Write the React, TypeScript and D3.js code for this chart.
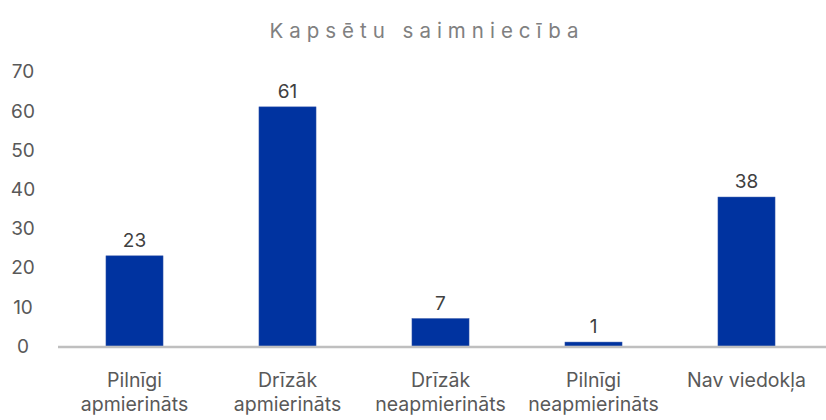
import React from "react";
import * as d3 from "d3";

const categories: string[][] = [
  ["Pilnīgi", "apmierināts"],
  ["Drīzāk", "apmierināts"],
  ["Drīzāk", "neapmierināts"],
  ["Pilnīgi", "neapmierināts"],
  ["Nav viedokļa"],
];
const values: number[] = [23, 61, 7, 1, 38];
const yTicks: number[] = [0, 10, 20, 30, 40, 50, 60, 70];
const title = "Kapsētu saimniecība";

const W = 826;
const H = 420;
const FONT = "Inter, 'Open Sans', sans-serif";

export default function App() {
  const x = d3
    .scaleBand<number>()
    .domain(values.map((_, i) => i))
    .range([58, 823])
    .paddingInner(0.627)
    .paddingOuter(0.3135);
  const y = d3.scaleLinear().domain([0, 70]).range([346, 71.6]);
  const bw = x.bandwidth();

  return (
    <svg
      width={W}
      height={H}
      style={{ position: "absolute", left: 0, top: 0, background: "#fff" }}
      fontFamily={FONT}
    >
      <text
        x={427}
        y={38}
        textAnchor="middle"
        fontSize={20.5}
        fill="#808080"
        letterSpacing={6}
      >
        {title}
      </text>
      {yTicks.map((t) => (
        <text
          key={t}
          x={23}
          y={y(t)}
          dy="0.36em"
          textAnchor="middle"
          fontSize={19}
          fill="#595959"
        >
          {t}
        </text>
      ))}
      {values.map((v, i) => (
        <g key={i}>
          <rect
            x={x(i)!}
            y={y(v)}
            width={bw}
            height={y(0) - y(v)}
            fill="#0033A0"
            stroke="#3355a8"
            strokeWidth={0.5}
          />
          <text
            x={x(i)! + bw / 2}
            y={y(v) - 9}
            textAnchor="middle"
            fontSize={19}
            fill="#404040"
          >
            {v}
          </text>
          <text
            x={x(i)! + bw / 2}
            y={387}
            textAnchor="middle"
            fontSize={19.5}
            fill="#595959"
          >
            {categories[i].map((line, j) => (
              <tspan key={j} x={x(i)! + bw / 2} dy={j === 0 ? 0 : 24}>
                {line}
              </tspan>
            ))}
          </text>
        </g>
      ))}
      <line x1={58} x2={826} y1={y(0) + 1} y2={y(0) + 1} stroke="#bfbfbf" strokeWidth={2.5} />
    </svg>
  );
}
